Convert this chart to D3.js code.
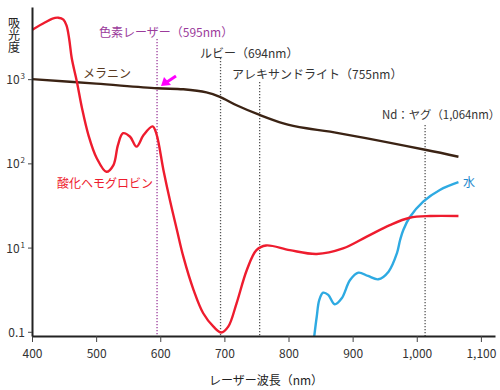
<!DOCTYPE html>
<html lang="ja">
<meta charset="utf-8">
<script src="https://d3js.org/d3.v7.min.js"></script>
<style>
  body { margin: 0; background: #fff; }
  svg text { font-family: "Noto Sans CJK JP", sans-serif; }
</style>
<svg id="base" width="500" height="390"></svg>

<script>
    // data
    var xTicks = [400, 500, 600, 700, 800, 900, 1000, 1100];
    var yTicks = [1, 10, 100, 1000];
    var yTickLabels = [["0.1", ""], ["10", "1"], ["10", "2"], ["10", "3"]];

    var hbWave = [400, 420, 432, 441, 449, 454, 458, 462, 470, 478, 488, 501, 516, 527, 534, 542, 553, 563, 574, 588, 594, 605, 615, 626, 636, 652, 667, 683, 695, 706, 719, 735, 750, 765, 802, 844, 885, 922, 958, 989, 1021, 1065];
    var hbAbs = [3840, 4700, 5250, 5370, 5100, 4300, 3000, 1770, 933, 451, 217, 115, 79.4, 95.5, 165, 228, 207, 158, 217, 275, 224, 83, 36.7, 16.2, 7.8, 3.13, 1.66, 1.15, 0.98, 1.15, 2.18, 5.42, 9.33, 10.6, 9.33, 8.4, 9.77, 13.5, 18.5, 22.6, 23.7, 23.7];

    var waterWave = [840, 844, 848, 854, 862, 872, 883, 896, 909, 924, 940, 956, 969, 974, 979, 989, 1010, 1036, 1065];
    var waterAbs = [0.87, 1.51, 2.39, 2.91, 2.74, 2.12, 2.5, 4.12, 5.04, 4.6, 4.2, 5.18, 8.55, 12.3, 16.2, 22.9, 35.1, 48.3, 59.7];

    var melWave = [400, 500, 595, 636, 672, 693, 719, 755, 792, 828, 865, 1013, 1065];
    var melAbs = [1000, 884, 780, 759, 698, 617, 490, 376, 299, 261, 238, 145, 120];

    var laserNames = ["色素レーザー（595nm）", "ルビー（694nm）", "アレキサンドライト（755nm）", "Nd：ヤグ（1,064nm）"];
    var laserWave = [595, 694, 755, 1013];

    var svg = d3.select("#base");

    var x = d3.scaleLinear().domain([400, 1122]).range([32, 495]);
    var y = d3.scaleLog().domain([Math.pow(10, -0.05), Math.pow(10, 3.857)]).range([336, 7]);

    // laser markers
    var laserTop = [39, 58, 82, 125];
    var laserColor = ["#9b3b9b", "#555", "#555", "#555"];
    var labelPos = [[99, 37], [200, 58], [232, 79], [382, 119]];
    var labelSize = [12, 12, 12, 11.4];

    svg.append("g").selectAll("line")
        .data(laserWave)
        .enter()
        .append("line")
        .attr("x1", function (d) { return x(d); })
        .attr("x2", function (d) { return x(d); })
        .attr("y1", function (d, i) { return laserTop[i]; })
        .attr("y2", 336)
        .attr("stroke", function (d, i) { return laserColor[i]; })
        .attr("stroke-width", 1.3)
        .attr("stroke-dasharray", "1.3,1.7");

    svg.append("g").selectAll("text")
        .data(laserNames)
        .enter()
        .append("text")
        .attr("x", function (d, i) { return labelPos[i][0]; })
        .attr("y", function (d, i) { return labelPos[i][1]; })
        .style("font-size", function (d, i) { return labelSize[i] + "px"; })
        .attr("fill", function (d, i) { return i == 0 ? "#9b3b9b" : "#333"; })
        .text(function (d) { return d; });

    // curves
    var line = d3.line()
        .x(function (d) { return x(d[0]); })
        .y(function (d) { return y(d[1]); })
        .curve(d3.curveCatmullRom.alpha(0.5));

    svg.append("clipPath").attr("id", "plot")
        .append("rect").attr("x", 32).attr("y", 0).attr("width", 470).attr("height", 336);

    function draw(wave, abs, color) {
        svg.append("path")
            .datum(d3.zip(wave, abs))
            .attr("clip-path", "url(#plot)")
            .attr("d", line)
            .attr("fill", "none")
            .attr("stroke", color)
            .attr("stroke-width", 2.4);
    }
    draw(melWave, melAbs, "#3b2314");
    draw(waterWave, waterAbs, "#2eaae2");
    draw(hbWave, hbAbs, "#ee1c2e");

    // series labels
    svg.append("text").attr("x", 83).attr("y", 78).style("font-size", "12px")
        .attr("fill", "#5a3a22").text("メラニン");
    svg.append("text").attr("x", 57).attr("y", 188).style("font-size", "12px")
        .attr("fill", "#ee1c2e").text("酸化ヘモグロビン");
    svg.append("text").attr("x", 463).attr("y", 187).style("font-size", "12px")
        .attr("fill", "#1e88cc").text("水");

    // arrow
    svg.append("line")
        .attr("x1", 176).attr("y1", 76).attr("x2", 167).attr("y2", 82)
        .attr("stroke", "#ff00ff").attr("stroke-width", 3);
    svg.append("path")
        .attr("d", "M161,86 L164,77 L171,85 Z")
        .attr("fill", "#ff00ff");

    // axes
    var xAxis = svg.append("g")
        .attr("transform", "translate(0,336)")
        .call(d3.axisBottom(x)
            .tickValues(xTicks)
            .tickSize(6)
            .tickSizeOuter(0)
            .tickFormat(d3.format(",")));
    xAxis.select(".domain").attr("stroke", "#222").attr("stroke-width", 2);
    xAxis.selectAll(".tick line").attr("stroke", "#444");
    xAxis.selectAll(".tick text")
        .attr("y", 13)
        .attr("fill", "#333")
        .style("font-size", "12px");

    var yAxis = svg.append("g")
        .attr("transform", "translate(32,0)")
        .call(d3.axisLeft(y)
            .tickValues(yTicks)
            .tickSize(4)
            .tickSizeOuter(0)
            .tickFormat(""));
    yAxis.select(".domain").attr("stroke", "#222").attr("stroke-width", 2);
    yAxis.selectAll(".tick line").attr("stroke", "#444");

    var yLab = svg.append("g").selectAll("text")
        .data(yTicks)
        .enter()
        .append("text")
        .attr("x", 25)
        .attr("y", function (d) { return y(d) + 5; })
        .attr("text-anchor", "end")
        .attr("fill", "#333")
        .style("font-size", "12px");
    yLab.append("tspan").text(function (d, i) { return yTickLabels[i][0]; });
    yLab.append("tspan")
        .attr("dx", 1)
        .attr("dy", -5)
        .style("font-size", "8px")
        .text(function (d, i) { return yTickLabels[i][1]; });

    // axis titles
    svg.append("text")
        .attr("x", 266).attr("y", 385)
        .attr("text-anchor", "middle")
        .attr("fill", "#222")
        .style("font-size", "12px")
        .text("レーザー波長（nm）");

    svg.append("text")
        .attr("x", 14).attr("y", 17)
        .attr("fill", "#222")
        .style("font-size", "12px")
        .style("writing-mode", "vertical-rl")
        .text("吸光度");
</script>
